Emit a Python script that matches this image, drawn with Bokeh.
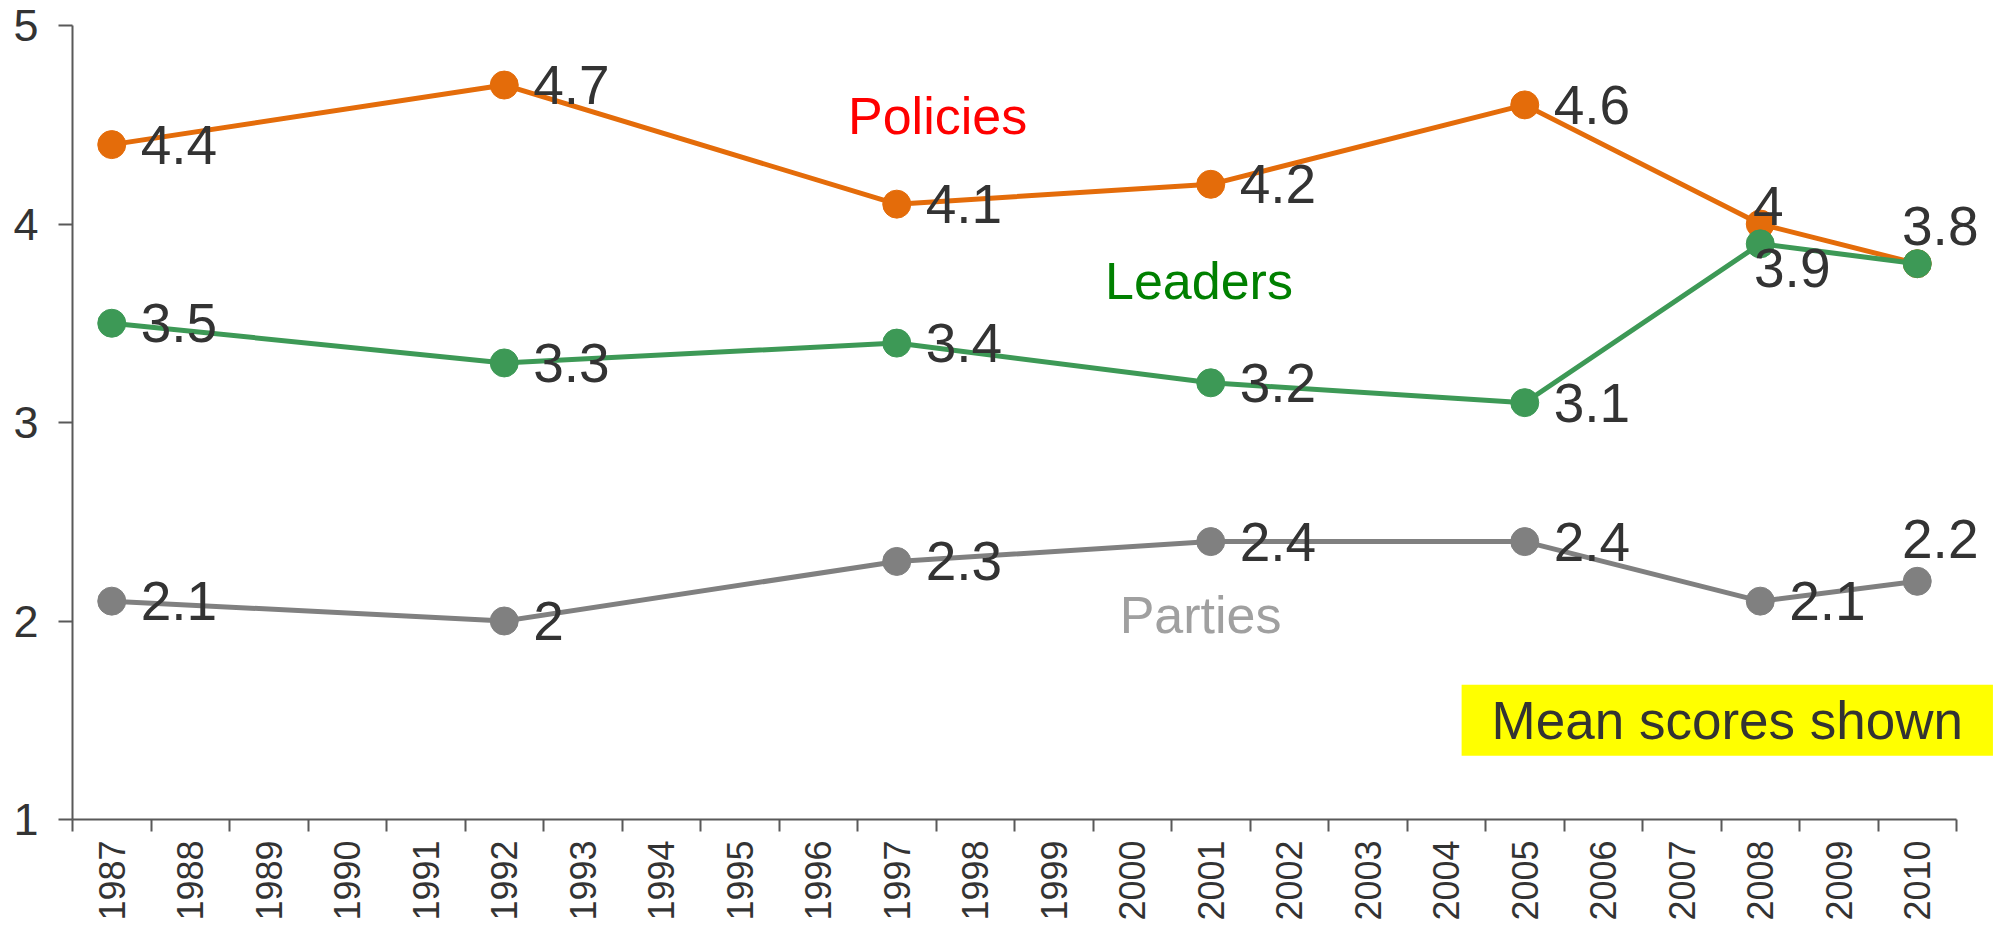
import math
from bokeh.plotting import figure
from bokeh.models import ColumnDataSource, LabelSet, Label, Range1d, FixedTicker, BasicTickFormatter
from bokeh.core.properties import value
from bokeh.embed import file_html
from bokeh.resources import INLINE

# ---------------- data ----------------
years = [1987, 1992, 1997, 2001, 2005, 2008, 2010]
policies = [4.4, 4.7, 4.1, 4.2, 4.6, 4.0, 3.8]
leaders = [3.5, 3.3, 3.4, 3.2, 3.1, 3.9, 3.8]
parties = [2.1, 2.0, 2.3, 2.4, 2.4, 2.1, 2.2]
axis_years = list(range(1987, 2011))
y_ticks = [1, 2, 3, 4, 5]
series_names = ["Policies", "Leaders", "Parties"]
note_text = "Mean scores shown"

# ---------------- style ----------------
FONT = "Liberation Sans"
TXT = "#333333"
AXIS = "#595959"
col_pol = "#E46C0A"
col_lea = "#3D9956"
col_par = "#808080"
name_cols = {"Policies": "#FF0000", "Leaders": "#008000", "Parties": "#A0A0A0"}

# label placement: default right of point; a few special
special = {
    ("Policies", 2008): ("center", 8, 18),
    ("Leaders", 2008): ("center", 32, -24),
    ("Policies", 2010): ("center", 23, 38),
    ("Parties", 2010): ("center", 23, 42),
    ("Leaders", 2010): None,
}

x_lo = axis_years[0] - 0.5
x_hi = axis_years[-1] + 0.5
# frame reaches the right edge of the canvas so labels beyond the last year are not clipped
px_per_year = 78.5
frame_w = 1930
x_end = x_lo + frame_w / px_per_year

p = figure(frame_width=frame_w, frame_height=794,
           x_range=Range1d(x_lo, x_end), y_range=Range1d(1, 5),
           output_backend="svg", toolbar_location=None,
           min_border_left=72, min_border_right=0,
           min_border_top=25, min_border_bottom=100)
p.outline_line_color = None
p.xgrid.visible = False
p.ygrid.visible = False
p.background_fill_color = "white"
p.border_fill_color = "white"

# x axis: labels at centers, tick marks at boundaries (minor ticks)
xa = p.xaxis[0]
xa.bounds = (x_lo, x_hi)
xa.ticker = FixedTicker(ticks=axis_years,
                        minor_ticks=[y - 0.5 for y in axis_years] + [x_hi])
xa.formatter = BasicTickFormatter(use_scientific=False)
xa.major_tick_line_color = None
xa.major_tick_out = 0
xa.major_tick_in = 0
xa.minor_tick_out = 12
xa.minor_tick_in = 0
xa.minor_tick_line_color = AXIS
xa.minor_tick_line_width = 2
xa.axis_line_color = AXIS
xa.axis_line_width = 2
xa.major_label_orientation = math.pi / 2
xa.major_label_standoff = 9
xa.major_label_text_font = FONT
xa.major_label_text_font_size = "36px"
xa.major_label_text_color = TXT

ya = p.yaxis[0]
ya.ticker = FixedTicker(ticks=y_ticks)
ya.major_tick_out = 14
ya.major_tick_in = 0
ya.minor_tick_line_color = None
ya.major_tick_line_color = AXIS
ya.major_tick_line_width = 2
ya.axis_line_color = AXIS
ya.axis_line_width = 2
ya.major_label_standoff = 20
ya.major_label_text_font = FONT
ya.major_label_text_font_size = "45px"
ya.major_label_text_color = TXT

series = [("Parties", parties, col_par), ("Policies", policies, col_pol), ("Leaders", leaders, col_lea)]
for name, vals, c in series:
    p.line(years, vals, line_color=c, line_width=5)
    p.scatter(years, vals, size=28, fill_color=c, line_color=c)

# value labels
right = dict(x=[], y=[], text=[], xo=[], yo=[])
cent = dict(x=[], y=[], text=[], xo=[], yo=[])
for name, vals, c in [("Policies", policies, col_pol), ("Leaders", leaders, col_lea), ("Parties", parties, col_par)]:
    for yr, v in zip(years, vals):
        key = (name, yr)
        if key in special:
            sp = special[key]
            if sp is None:
                continue
            d = cent
            xo, yo = sp[1], sp[2]
        else:
            d = right
            xo, yo = 29, 0
        d["x"].append(yr)
        d["y"].append(v)
        d["text"].append(f"{v:g}")
        d["xo"].append(xo)
        d["yo"].append(yo)

for d, align in [(right, "left"), (cent, "center")]:
    ls = LabelSet(x="x", y="y", text="text", x_offset="xo", y_offset="yo",
                  source=ColumnDataSource(d), text_align=align, text_baseline="middle",
                  text_font=value(FONT), text_font_size=value("55px"), text_color=TXT)
    p.add_layout(ls)

# series names
name_pos = {"Policies": (1997.52, 4.545), "Leaders": (2000.85, 3.714), "Parties": (2000.87, 2.03)}
for nm in series_names:
    x, y = name_pos[nm]
    p.add_layout(Label(x=x, y=y, text=nm, text_align="center", text_baseline="middle",
                       text_font=FONT, text_font_size="52px", text_color=name_cols[nm]))

# note box
p.add_layout(Label(x=2007.58, y=1.5, text=note_text, text_align="center", text_baseline="middle",
                   text_font=FONT, text_font_size="53px", text_color=TXT,
                   background_fill_color="#FFFF00", padding=(30, 6)))

open("out.html", "w").write(file_html(p, INLINE))
